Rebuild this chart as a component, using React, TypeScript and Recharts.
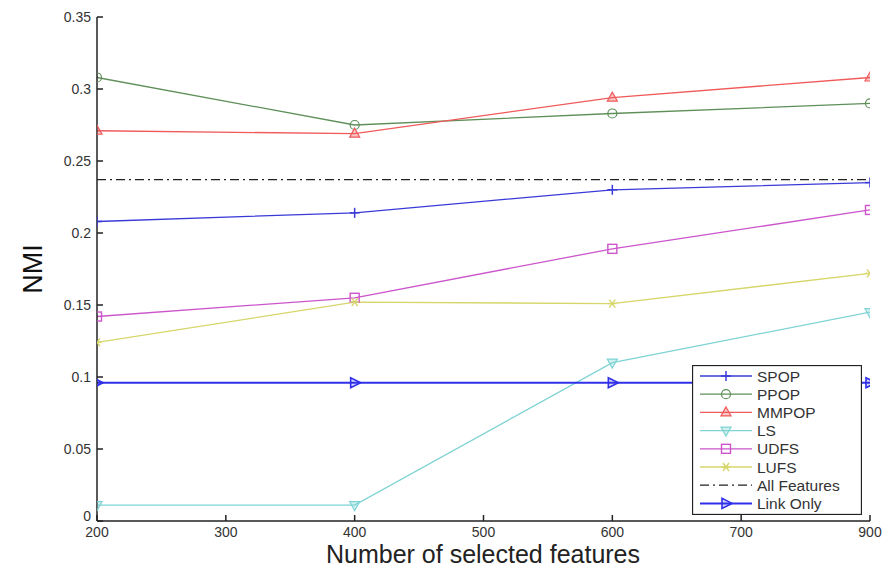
import React from 'react';
import { LineChart, Line, XAxis, YAxis } from 'recharts';

const xValues = [200, 400, 600, 800];
const xTicks = [200, 300, 400, 500, 600, 700, 800];
const xTickLabels = ['200', '300', '400', '500', '600', '700', '900'];
const yTicks = [0, 0.05, 0.1, 0.15, 0.2, 0.25, 0.3, 0.35];
const yTickLabels = ['0', '0.05', '0.1', '0.15', '0.2', '0.25', '0.3', '0.35'];

const spop = [0.208, 0.214, 0.23, 0.235];
const ppop = [0.308, 0.275, 0.283, 0.29];
const mmpop = [0.271, 0.269, 0.294, 0.308];
const ls = [0.011, 0.011, 0.11, 0.145];
const udfs = [0.142, 0.155, 0.189, 0.216];
const lufs = [0.124, 0.152, 0.151, 0.172];
const allFeatures = [0.237, 0.237, 0.237, 0.237];
const linkOnly = [0.096, 0.096, 0.096, 0.096];

type Marker = 'plus' | 'circle' | 'triUp' | 'triDown' | 'square' | 'star' | 'triRight' | 'none';

const series: { key: string; name: string; color: string; marker: Marker; values: number[]; width: number; dash?: string }[] = [
  { key: 'spop', name: 'SPOP', color: '#3a3ad8', marker: 'plus', values: spop, width: 1.3 },
  { key: 'ppop', name: 'PPOP', color: '#5e8f58', marker: 'circle', values: ppop, width: 1.3 },
  { key: 'mmpop', name: 'MMPOP', color: '#f05a5a', marker: 'triUp', values: mmpop, width: 1.3 },
  { key: 'ls', name: 'LS', color: '#7fd3d3', marker: 'triDown', values: ls, width: 1.3 },
  { key: 'udfs', name: 'UDFS', color: '#cc55cc', marker: 'square', values: udfs, width: 1.3 },
  { key: 'lufs', name: 'LUFS', color: '#d6d66a', marker: 'star', values: lufs, width: 1.3 },
  { key: 'all', name: 'All Features', color: '#222222', marker: 'none', values: allFeatures, width: 1.3, dash: '9 4 2 4' },
  { key: 'link', name: 'Link Only', color: '#3030e8', marker: 'triRight', values: linkOnly, width: 2 },
];

const data = xValues.map((x, i) => {
  const row: Record<string, number> = { x };
  series.forEach(s => { row[s.key] = s.values[i]; });
  return row;
});

const font = '"Liberation Sans", Arial, sans-serif';
const axisColor = '#222';
const textColor = '#333';

function drawMarker(kind: Marker, cx: number, cy: number, color: string, k?: string) {
  const sw = 1.2;
  switch (kind) {
    case 'plus':
      return (
        <g key={k}>
          <line x1={cx - 5} x2={cx + 5} y1={cy} y2={cy} stroke={color} strokeWidth={1.5} />
          <line x1={cx} x2={cx} y1={cy - 5} y2={cy + 5} stroke={color} strokeWidth={1.5} />
        </g>
      );
    case 'circle':
      return <circle key={k} cx={cx} cy={cy} r={4.5} fill="none" stroke={color} strokeWidth={sw} />;
    case 'triUp':
      return <polygon key={k} points={`${cx},${cy - 5.5} ${cx - 5},${cy + 3.5} ${cx + 5},${cy + 3.5}`} fill={color} fillOpacity={0.35} stroke={color} strokeWidth={sw} />;
    case 'triDown':
      return <polygon key={k} points={`${cx},${cy + 5.5} ${cx - 5},${cy - 3.5} ${cx + 5},${cy - 3.5}`} fill={color} fillOpacity={0.35} stroke={color} strokeWidth={sw} />;
    case 'square':
      return <rect key={k} x={cx - 4.5} y={cy - 4.5} width={9} height={9} fill="none" stroke={color} strokeWidth={1.4} />;
    case 'star':
      return (
        <g key={k} stroke={color} strokeWidth={1.4}>
          <line x1={cx - 4.5} x2={cx + 4.5} y1={cy} y2={cy} />
          <line x1={cx - 3} x2={cx + 3} y1={cy - 4} y2={cy + 4} />
          <line x1={cx - 3} x2={cx + 3} y1={cy + 4} y2={cy - 4} />
        </g>
      );
    case 'triRight':
      return <polygon key={k} points={`${cx + 6},${cy} ${cx - 4},${cy - 5} ${cx - 4},${cy + 5}`} fill={color} fillOpacity={0.2} stroke={color} strokeWidth={1.6} />;
    default:
      return <g key={k} />;
  }
}

const LeftTick = (props: any) => {
  const { x, y, index } = props;
  return (
    <g>
      <line x1={x} x2={x + 6} y1={y} y2={y} stroke={axisColor} strokeWidth={1.5} />
      <text x={x - 6} y={y} dy={index === 0 ? 0 : 5} textAnchor="end" fontSize={14} fontFamily={font} fill={textColor}>
        {yTickLabels[index]}
      </text>
    </g>
  );
};

const RightTick = (props: any) => {
  const { x, y } = props;
  return <line x1={x - 6} x2={x} y1={y} y2={y} stroke={axisColor} strokeWidth={1.5} />;
};

const BottomTick = (props: any) => {
  const { x, y, index } = props;
  return (
    <g>
      <line x1={x} x2={x} y1={y - 6} y2={y} stroke={axisColor} strokeWidth={1.5} />
      <text x={x} y={y} dy={16} textAnchor="middle" fontSize={14} fontFamily={font} fill={textColor}>
        {xTickLabels[index]}
      </text>
    </g>
  );
};

const TopTick = (props: any) => {
  const { x, y } = props;
  return <line x1={x} x2={x} y1={y} y2={y + 6} stroke={axisColor} strokeWidth={1.5} />;
};

const LegendBox = () => (
  <svg width={170} height={150} style={{ display: 'block' }}>
    <rect x={0.5} y={0.5} width={169} height={149} fill="#fff" stroke={axisColor} strokeWidth={1.3} />
    {series.map((s, i) => {
      const cy = 11 + i * 18.2;
      return (
        <g key={s.key}>
          <line x1={8} x2={60} y1={cy} y2={cy} stroke={s.color} strokeWidth={s.width} strokeDasharray={s.dash} />
          {drawMarker(s.marker, 34, cy, s.color)}
          <text x={65} y={cy} dy={5.5} fontSize={15.5} fontFamily={font} fill={textColor}>{s.name}</text>
        </g>
      );
    })}
  </svg>
);

export default function App() {
  return (
    <div style={{ position: 'absolute', left: 0, top: 0, width: 896, height: 567, background: '#fff' }}>
      <LineChart width={896} height={567} data={data} margin={{ top: 17, right: 26, bottom: 16, left: 0 }}>
        <XAxis
          xAxisId="bottom"
          dataKey="x"
          type="number"
          domain={[200, 800]}
          ticks={xTicks}
          allowDataOverflow
          height={30}
          tickSize={0}
          tickMargin={0}
          tickLine={false}
          axisLine={{ stroke: axisColor, strokeWidth: 1.5 }}
          tick={<BottomTick />}
          interval={0}
          label={{
            content: () => (
              <text x={483} y={563} textAnchor="middle" fontSize={25} fontFamily={font} fill="#222">
                Number of selected features
              </text>
            ),
          }}
        />
        <XAxis
          xAxisId="top"
          orientation="top"
          dataKey="x"
          type="number"
          domain={[200, 800]}
          ticks={xTicks}
          allowDataOverflow
          height={0}
          tickSize={0}
          tickMargin={0}
          tickLine={false}
          axisLine={{ stroke: axisColor, strokeWidth: 1.5 }}
          tick={<TopTick />}
          interval={0}
        />
        <YAxis
          yAxisId="left"
          type="number"
          domain={[0, 0.35]}
          ticks={yTicks}
          allowDataOverflow
          width={97}
          tickSize={0}
          tickMargin={0}
          tickLine={false}
          axisLine={{ stroke: axisColor, strokeWidth: 1.5 }}
          tick={<LeftTick />}
          interval={0}
          label={{
            content: () => (
              <text x={42} y={269} transform="rotate(-90 42 269)" textAnchor="middle" fontSize={27} fontFamily={font} fill="#111">
                NMI
              </text>
            ),
          }}
        />
        <YAxis
          yAxisId="right"
          orientation="right"
          type="number"
          domain={[0, 0.35]}
          ticks={yTicks}
          allowDataOverflow
          width={0}
          tickSize={0}
          tickMargin={0}
          tickLine={false}
          axisLine={{ stroke: axisColor, strokeWidth: 1.5 }}
          tick={<RightTick />}
          interval={0}
        />
        {series.map(s => (
          <Line
            key={s.key}
            xAxisId="bottom"
            yAxisId="left"
            type="linear"
            dataKey={s.key}
            name={s.name}
            stroke={s.color}
            strokeWidth={s.width}
            strokeDasharray={s.dash}
            isAnimationActive={false}
            dot={(p: any) => drawMarker(s.marker, p.cx, p.cy, s.color, `${s.key}-${p.index}`)}
            activeDot={false}
          />
        ))}
      </LineChart>
      <div style={{ position: 'absolute', left: 692, top: 365, width: 170, height: 150 }}>
        <LegendBox />
      </div>
    </div>
  );
}
